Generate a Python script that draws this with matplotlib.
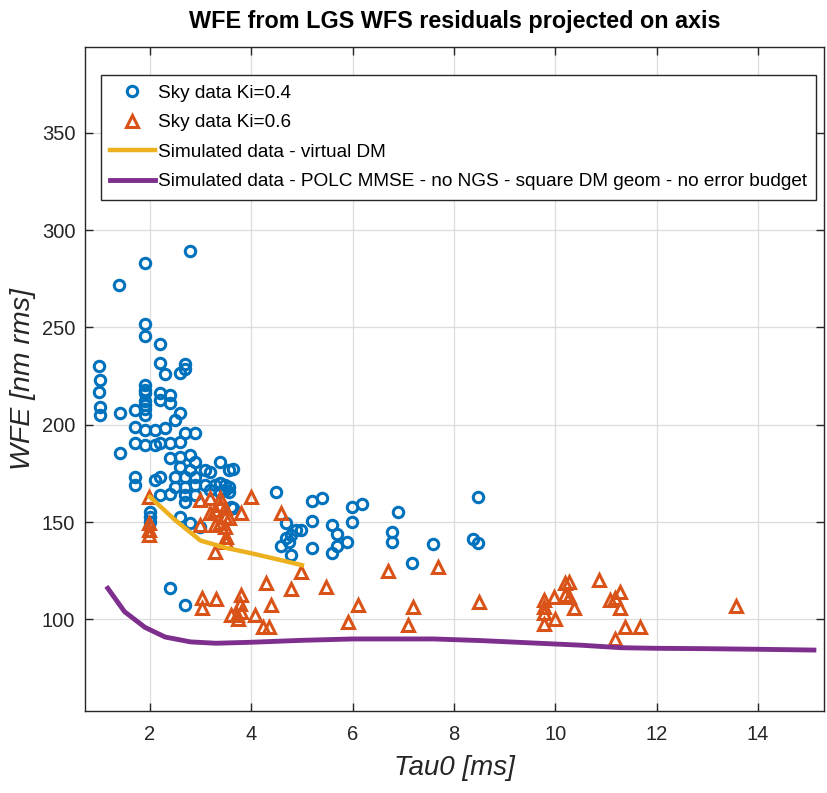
import matplotlib.pyplot as plt

plt.rcParams['font.family'] = ['Liberation Sans', 'DejaVu Sans']

# sky data, Ki = 0.4
ki04_tau0 = [2.80, 1.91, 1.40, 1.91, 1.91, 2.20, 1.00, 2.20, 2.30, 2.59, 2.70, 2.70, 1.00, 1.91, 1.91,
             2.20, 2.39, 1.02, 1.02, 1.91, 1.91, 1.91, 1.41, 1.71, 2.20, 2.39, 2.59, 2.49, 1.71, 1.71,
             1.41, 1.90, 2.10, 2.30, 2.20, 1.90, 2.10, 2.39, 2.59, 2.69, 2.89, 2.39, 2.59, 2.79, 2.59,
             2.89, 2.79, 2.49, 2.69, 2.89, 3.08, 3.18, 3.38, 3.57, 1.71, 1.71, 2.10, 2.20, 2.49, 2.69,
             2.89, 2.69, 2.89, 2.39, 2.20, 3.08, 3.28, 3.38, 3.48, 3.48, 3.38, 3.18, 2.00, 2.00, 2.00,
             2.69, 2.59, 2.79, 2.99, 3.61, 4.49, 4.69, 4.79, 4.89, 1.02, 1.91, 1.91,
             3.63, 3.57, 3.57, 3.63, 5.20, 5.40, 4.99, 5.20, 4.59, 4.69, 4.75, 4.79, 5.20, 5.60, 5.69,
             5.69, 5.60, 5.88, 5.99, 6.19, 5.99, 6.89, 6.78, 6.78, 7.59, 7.18, 8.48, 8.38, 8.48,
             2.39, 2.70]
ki04_wfe = [289.3, 282.9, 271.8, 251.7, 245.6, 241.5, 230.4, 231.5, 226.0, 226.7, 231.2, 228.5, 216.6, 220.4, 216.1,
            216.1, 215.3, 209.3, 205.0, 212.0, 208.0, 205.0, 205.9, 207.6, 212.7, 211.0, 205.9, 202.4, 199.0, 190.4,
            185.3, 197.3, 197.3, 198.2, 190.4, 189.6, 189.6, 190.4, 191.3, 195.6, 195.6, 182.7, 183.6, 184.4, 178.4,
            181.0, 176.7, 173.3, 173.3, 173.3, 176.7, 175.9, 181.0, 176.7, 173.3, 169.0, 171.6, 173.3, 168.1, 168.1,
            169.0, 163.9, 163.9, 164.7, 163.9, 169.0, 169.0, 169.9, 169.0, 166.4, 165.6, 166.4, 155.3, 152.7, 150.2,
            160.4, 152.7, 149.3, 147.6, 157.9, 165.6, 149.3, 143.5, 145.9, 223.0, 217.8, 210.2,
            177.1, 168.1, 165.6, 157.0, 160.8, 162.2, 145.9, 150.7, 137.8, 141.6, 139.9, 133.0, 136.5, 148.5, 143.8,
            137.7, 134.2, 139.9, 157.9, 159.2, 150.2, 155.0, 144.7, 139.6, 138.7, 128.8, 162.7, 141.3, 139.4,
            116.2, 107.2]

# sky data, Ki = 0.6
ki06_tau0 = [1.99, 1.99, 1.99, 1.99, 2.98, 3.18, 3.38, 3.38, 3.48, 3.28, 3.18, 3.48, 3.38, 3.28, 3.48,
             2.98, 3.50, 3.99, 3.80, 4.59, 3.57, 4.99, 6.69, 7.69, 4.30, 4.79, 5.48, 8.49,
             9.77, 9.77, 9.77, 9.77, 9.97, 9.99, 10.19, 10.26, 10.19, 10.26, 10.36, 10.87, 11.08, 11.18,
             11.28, 11.28, 11.38, 11.67, 11.18, 13.56,
             3.28, 3.51, 3.02, 3.02, 3.31, 3.80, 3.77, 3.61, 3.71, 3.80, 3.74, 4.08, 4.24, 4.34, 4.39,
             5.90, 6.10, 7.09, 7.20]
ki06_wfe = [163.0, 149.3, 145.9, 143.3, 161.3, 162.2, 162.2, 158.7, 157.0, 156.2, 154.5, 152.7, 149.3, 148.5, 147.6,
            148.5, 142.4, 163.0, 154.5, 154.5, 152.0, 124.5, 124.8, 127.0, 118.5, 115.9, 116.8, 109.0,
            109.9, 106.5, 103.1, 97.9, 111.6, 100.5, 118.5, 119.3, 112.5, 111.6, 105.7, 120.2, 110.0, 110.8,
            114.2, 105.7, 95.9, 95.9, 90.2, 106.8,
            134.7, 139.9, 110.8, 105.7, 110.3, 112.5, 108.2, 102.2, 102.2, 103.9, 100.5, 102.2, 96.2, 96.2, 107.3,
            98.8, 107.3, 97.1, 106.5]

# simulation, virtual DM
vdm_tau0 = [2.0, 2.5, 3.0, 3.5, 4.0, 4.5, 5.0]
vdm_wfe = [163.0, 151.0, 140.5, 136.8, 134.0, 131.0, 127.9]

# simulation, POLC MMSE
polc_tau0 = [1.17, 1.5, 1.9, 2.3, 2.8, 3.3, 4.0, 5.0, 6.0, 7.0, 7.6, 8.5, 9.5, 10.5, 11.3, 12.0, 13.0, 14.0, 15.1]
polc_wfe = [116.0, 104.0, 96.0, 91.0, 88.5, 87.8, 88.3, 89.3, 90.0, 90.0, 90.0, 89.2, 88.0, 86.8, 85.5, 85.2, 85.0, 84.7, 84.3]

fig = plt.figure(figsize=(8.27, 7.93), dpi=100)
ax = fig.add_axes([0.1028, 0.1034, 0.8936, 0.8373])

ax.plot(ki04_tau0, ki04_wfe, linestyle='none', marker='o', markersize=7.5, mfc='none',
        mec='#0072BD', mew=2.2, label='Sky data Ki=0.4')
ax.plot(ki06_tau0, ki06_wfe, linestyle='none', marker='^', markersize=9, mfc='none',
        mec='#D95319', mew=2.2, label='Sky data Ki=0.6')
ax.plot(vdm_tau0, vdm_wfe, color='#EDB120', linewidth=3.2, label='Simulated data - virtual DM')
ax.plot(polc_tau0, polc_wfe, color='#7E2F8E', linewidth=3.5,
        label='Simulated data - POLC MMSE - no NGS - square DM geom - no error budget')

ax.set_xlim(0.72, 15.3)
ax.set_ylim(53, 394)
ax.set_xticks([2, 4, 6, 8, 10, 12, 14])
ax.set_yticks([100, 150, 200, 250, 300, 350])
ax.grid(True, color='#dcdcdc', linewidth=0.9)
ax.set_axisbelow(True)
ax.tick_params(direction='in', length=5.5, width=1, colors='#262626', labelsize=14.5,
               top=True, right=True)
ax.tick_params(axis='x', pad=10)
ax.tick_params(axis='y', pad=7)
for s in ax.spines.values():
    s.set_color('#262626')
    s.set_linewidth(1)

ax.set_xlabel('Tau0 [ms]', fontsize=20, style='italic', color='#262626')
ax.set_ylabel('WFE [nm rms]', fontsize=20.5, style='italic', color='#262626')
ax.xaxis.set_label_coords(0.5, -0.067)
ax.yaxis.set_label_coords(-0.066, 0.5)
ax.set_title('WFE from LGS WFS residuals projected on axis', fontsize=16.8, fontweight='bold', pad=14)

leg = ax.legend(loc='upper left', bbox_to_anchor=(0.021, 0.958), fontsize=13.7, frameon=True,
                fancybox=False, framealpha=1, edgecolor='#262626', handlelength=2.35,
                handletextpad=0.15, borderpad=0.5, labelspacing=0.64, borderaxespad=0)
leg.get_frame().set_linewidth(1)

fig.savefig('out.png', dpi=100)
